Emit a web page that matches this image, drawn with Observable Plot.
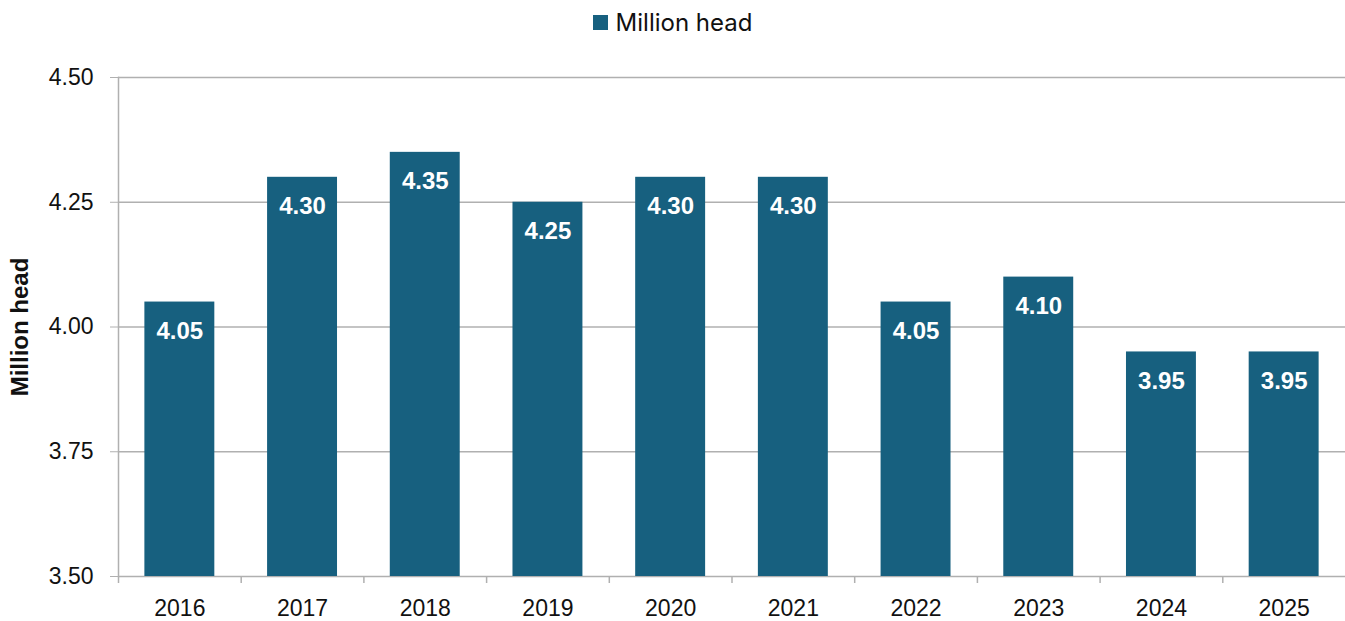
<!DOCTYPE html>
<html>
<head>
<meta charset="utf-8">
<script src="https://cdn.jsdelivr.net/npm/d3@7"></script>
<script src="https://cdn.jsdelivr.net/npm/@observablehq/plot@0.6"></script>
<style>
  html, body { margin: 0; padding: 0; background: #fff; }
  #legend { height: 44px; display: flex; align-items: center; justify-content: center; font-family: Inter, "Open Sans", sans-serif; font-size: 24px; color: #111; }
  #legend .sw { width: 15px; height: 15px; background: #17607f; margin-right: 8px; display: inline-block; }
  #legend span.t { position: relative; top: 0px; }
</style>
</head>
<body>
<div id="legend"><span class="sw"></span><span class="t">Million head</span></div>
<div id="chart"></div>
<script>
const years = ["2016","2017","2018","2019","2020","2021","2022","2023","2024","2025"];
const values = [4.05, 4.30, 4.35, 4.25, 4.30, 4.30, 4.05, 4.10, 3.95, 3.95];
const yTicks = [3.50, 3.75, 4.00, 4.25, 4.50];
const seriesName = "Million head";

const data = years.map((y, i) => ({year: y, value: values[i]}));
const W = 1345, ML = 118, MR = 0;
const step = (W - ML - MR) / years.length;

const chart = Plot.plot({
  width: W,
  height: 577,
  marginTop: 33,
  marginBottom: 45,
  marginLeft: ML,
  marginRight: MR,
  style: {fontFamily: "'Liberation Sans', Arial, sans-serif", background: "#fff"},
  x: {domain: years, paddingInner: 0.43, paddingOuter: 0.215, round: false, label: null},
  y: {domain: [3.5, 4.5], label: null},
  marks: [
    Plot.gridY(yTicks, {stroke: "#b0b0b0", strokeOpacity: 1, strokeWidth: 1.5}),
    Plot.axisY(yTicks, {tickSize: 8, tickPadding: 17, stroke: "#b0b0b0", fontSize: 23, fill: "#111", tickFormat: d => d.toFixed(2), label: null}),
    Plot.barY(data, {x: "year", y1: 3.5, y2: "value", fill: "#17607f"}),
    Plot.frame({anchor: "left", stroke: "#b0b0b0", strokeWidth: 1.5}),
    Plot.axisX({tickSize: 7, stroke: "#b0b0b0", strokeWidth: 1.5, text: null, dx: -step / 2}),
    Plot.axisX({tickSize: 0, tickPadding: 23, fontSize: 23, fill: "#111", label: null}),
    Plot.text(data, {x: "year", y: "value", text: d => d.value.toFixed(2), dy: 29, fill: "#fff", fontWeight: "bold", fontSize: 24}),
    Plot.text([seriesName], {frameAnchor: "left", textAnchor: "middle", text: d => d, rotate: -90, dx: -98, fontWeight: "bold", fontSize: 24, fill: "#111"})
  ]
});
document.getElementById("chart").appendChild(chart);
</script>
</body>
</html>
